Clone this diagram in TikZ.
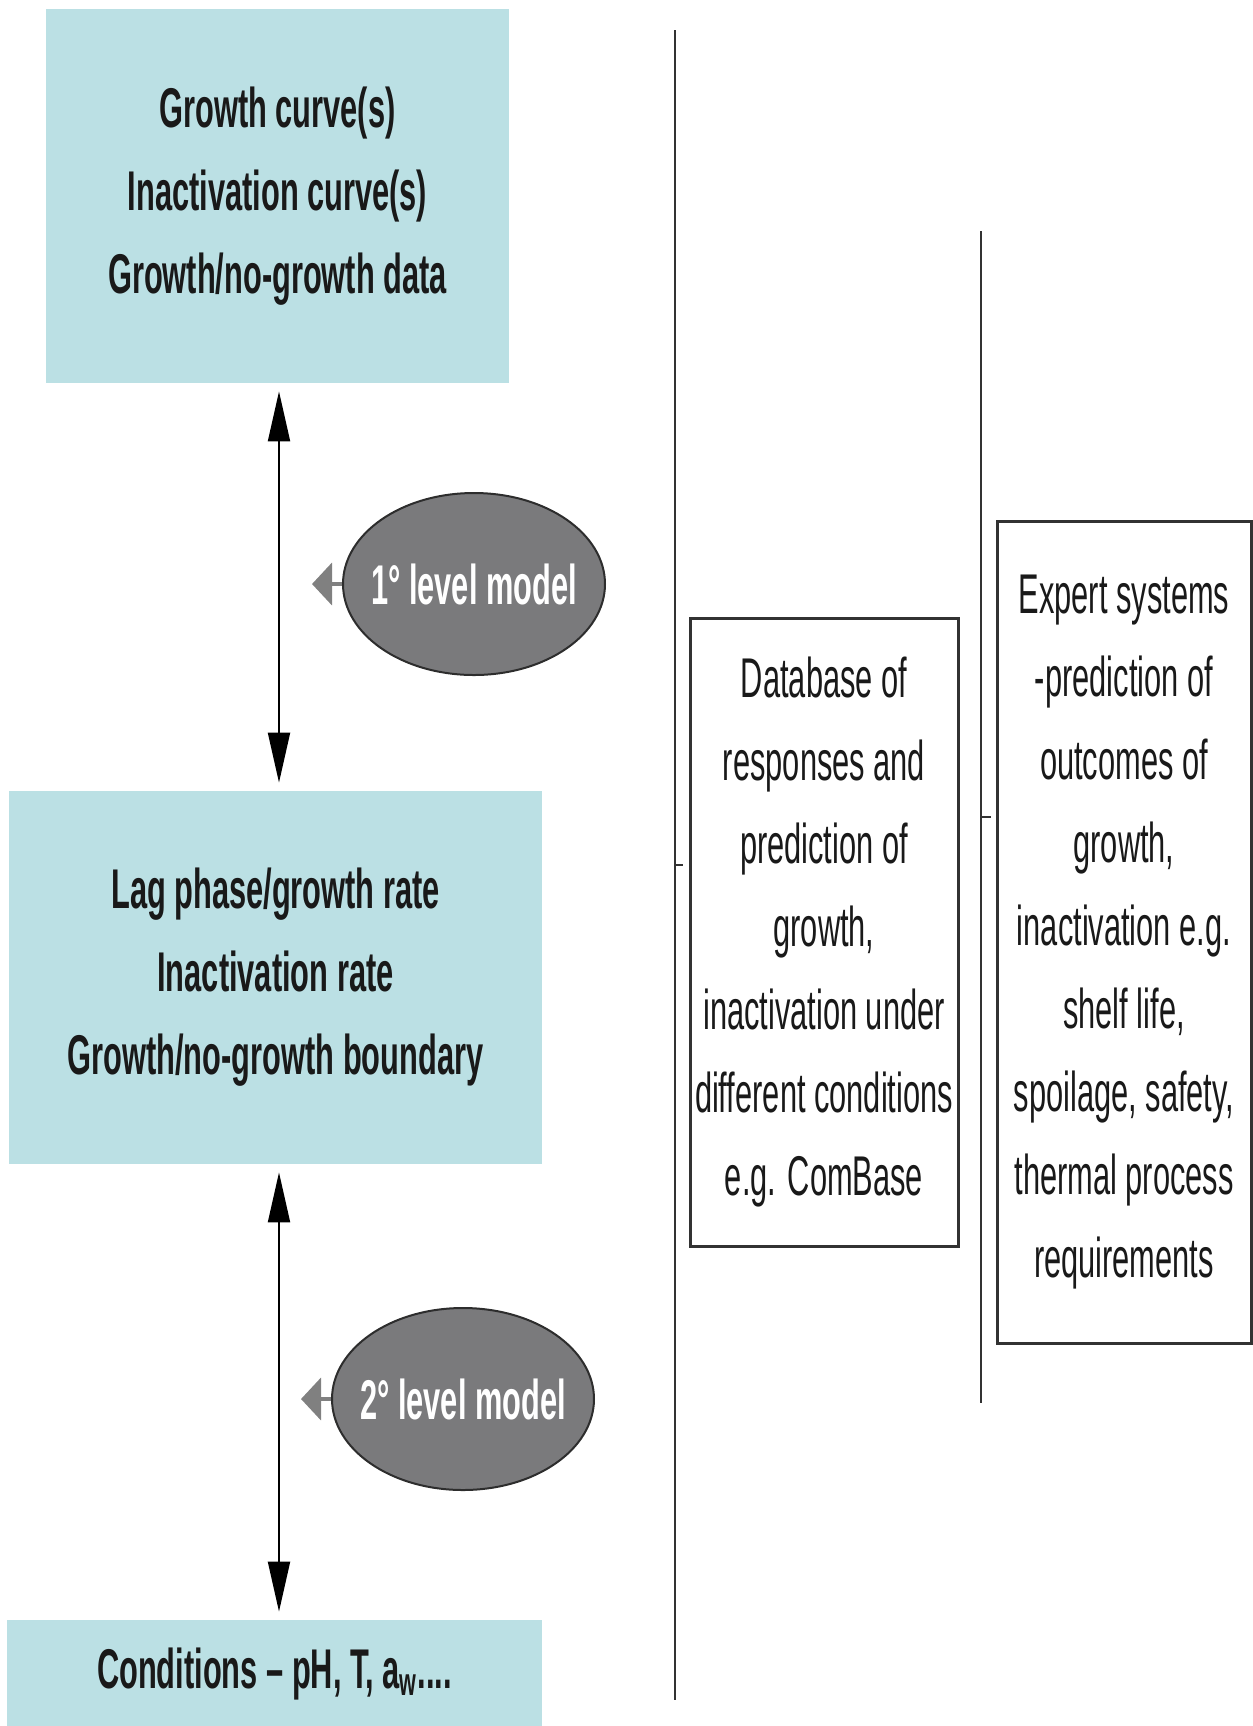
\documentclass[tikz,border=0pt]{standalone}
\usepackage{fontspec}
\setmainfont{Liberation Sans}[FakeStretch=0.55]
\usetikzlibrary{arrows.meta,shapes.geometric}
\definecolor{teal1}{RGB}{187,224,228}
\definecolor{ellgray}{RGB}{122,122,124}
\definecolor{ellborder}{RGB}{45,45,45}
\definecolor{txt}{RGB}{25,25,25}
\definecolor{linegray}{RGB}{50,50,50}
\definecolor{tipgray}{RGB}{128,128,128}
\begin{document}
\begin{tikzpicture}[x=0.5pt,y=-0.5pt,
  tealbox/.style={fill=teal1, draw=none, inner sep=0pt, align=center, text=txt, font=\fontsize{28}{41.5}\selectfont\bfseries},
  sidebox/.style={draw=linegray, line width=1.5pt, fill=white, inner sep=0pt, align=center, text=txt, font=\fontsize{28}{41.5}\selectfont},
  modelell/.style={ellipse, fill=ellgray, draw=ellborder, line width=1pt, inner sep=0pt, minimum width=131pt, minimum height=91pt},
  elltext/.style={inner sep=0pt, text=white, font=\fontsize{28}{34}\selectfont\bfseries},
  dblarrow/.style={line width=1pt, {Triangle[length=25pt,width=11pt]}-{Triangle[length=25pt,width=11pt]}, shorten >=4pt, shorten <=4pt},
  feedarrow/.style={draw=tipgray, line width=2pt, -{Triangle[length=10pt,width=21pt]}},
  bracket/.style={draw=linegray, line width=1pt}
]
\useasboundingbox (0,0) rectangle (1253,1726);

% left column boxes
\node[tealbox, minimum width=231.5pt, minimum height=187pt] (top) at (277.5,196)
  {Growth curve(s)\\Inactivation curve(s)\\Growth/no-growth data};
\node[tealbox, minimum width=266.5pt, minimum height=186.5pt] (mid) at (275.5,977.5)
  {Lag phase/growth rate\\Inactivation rate\\Growth/no-growth boundary};
\node[tealbox, minimum width=267.5pt, minimum height=54pt] (bot) at (274.5,1674)
  {Conditions -- pH, T, a\textsubscript{w}....};

% double arrows
\draw[dblarrow] (top.south -| 279,0) -- (mid.north -| 279,0);
\draw[dblarrow] (mid.south -| 279,0) -- (bot.north -| 279,0);

% model ellipses
\node[modelell] (m1) at (474,584) {};
\node[elltext] (t1) at (m1.center) {1° level model};
\node[modelell] (m2) at (463,1399) {};
\node[elltext] (t2) at (m2.center) {2° level model};
\coordinate (tip1) at (312,584);
\coordinate (tip2) at (301,1399);
\draw[feedarrow] (m1.west) -- (tip1);
\draw[feedarrow] (m2.west) -- (tip2);

% brackets
\coordinate (b1t) at (675,30);
\coordinate (b1b) at (675,1700);
\coordinate (b1m) at (675,865);
\coordinate (b1e) at (683,865);
\draw[bracket] (b1t) -- (b1b);
\draw[bracket] (b1m) -- (b1e);
\coordinate (b2t) at (981,231);
\coordinate (b2b) at (981,1403);
\coordinate (b2m) at (981,817);
\coordinate (b2e) at (991,817);
\draw[bracket] (b2t) -- (b2b);
\draw[bracket] (b2m) -- (b2e);

% right boxes
\node[sidebox, minimum width=134pt, minimum height=314pt] (db) at (824,932)
  {Database of\\responses and\\prediction of\\growth,\\inactivation under\\different conditions\\e.g. ComBase};
\node[sidebox, minimum width=127pt, minimum height=411pt] (ex) at (1124,932)
  {Expert systems\\-prediction of\\outcomes of\\growth,\\inactivation e.g.\\shelf life,\\spoilage, safety,\\thermal process\\requirements};
\end{tikzpicture}
\end{document}
